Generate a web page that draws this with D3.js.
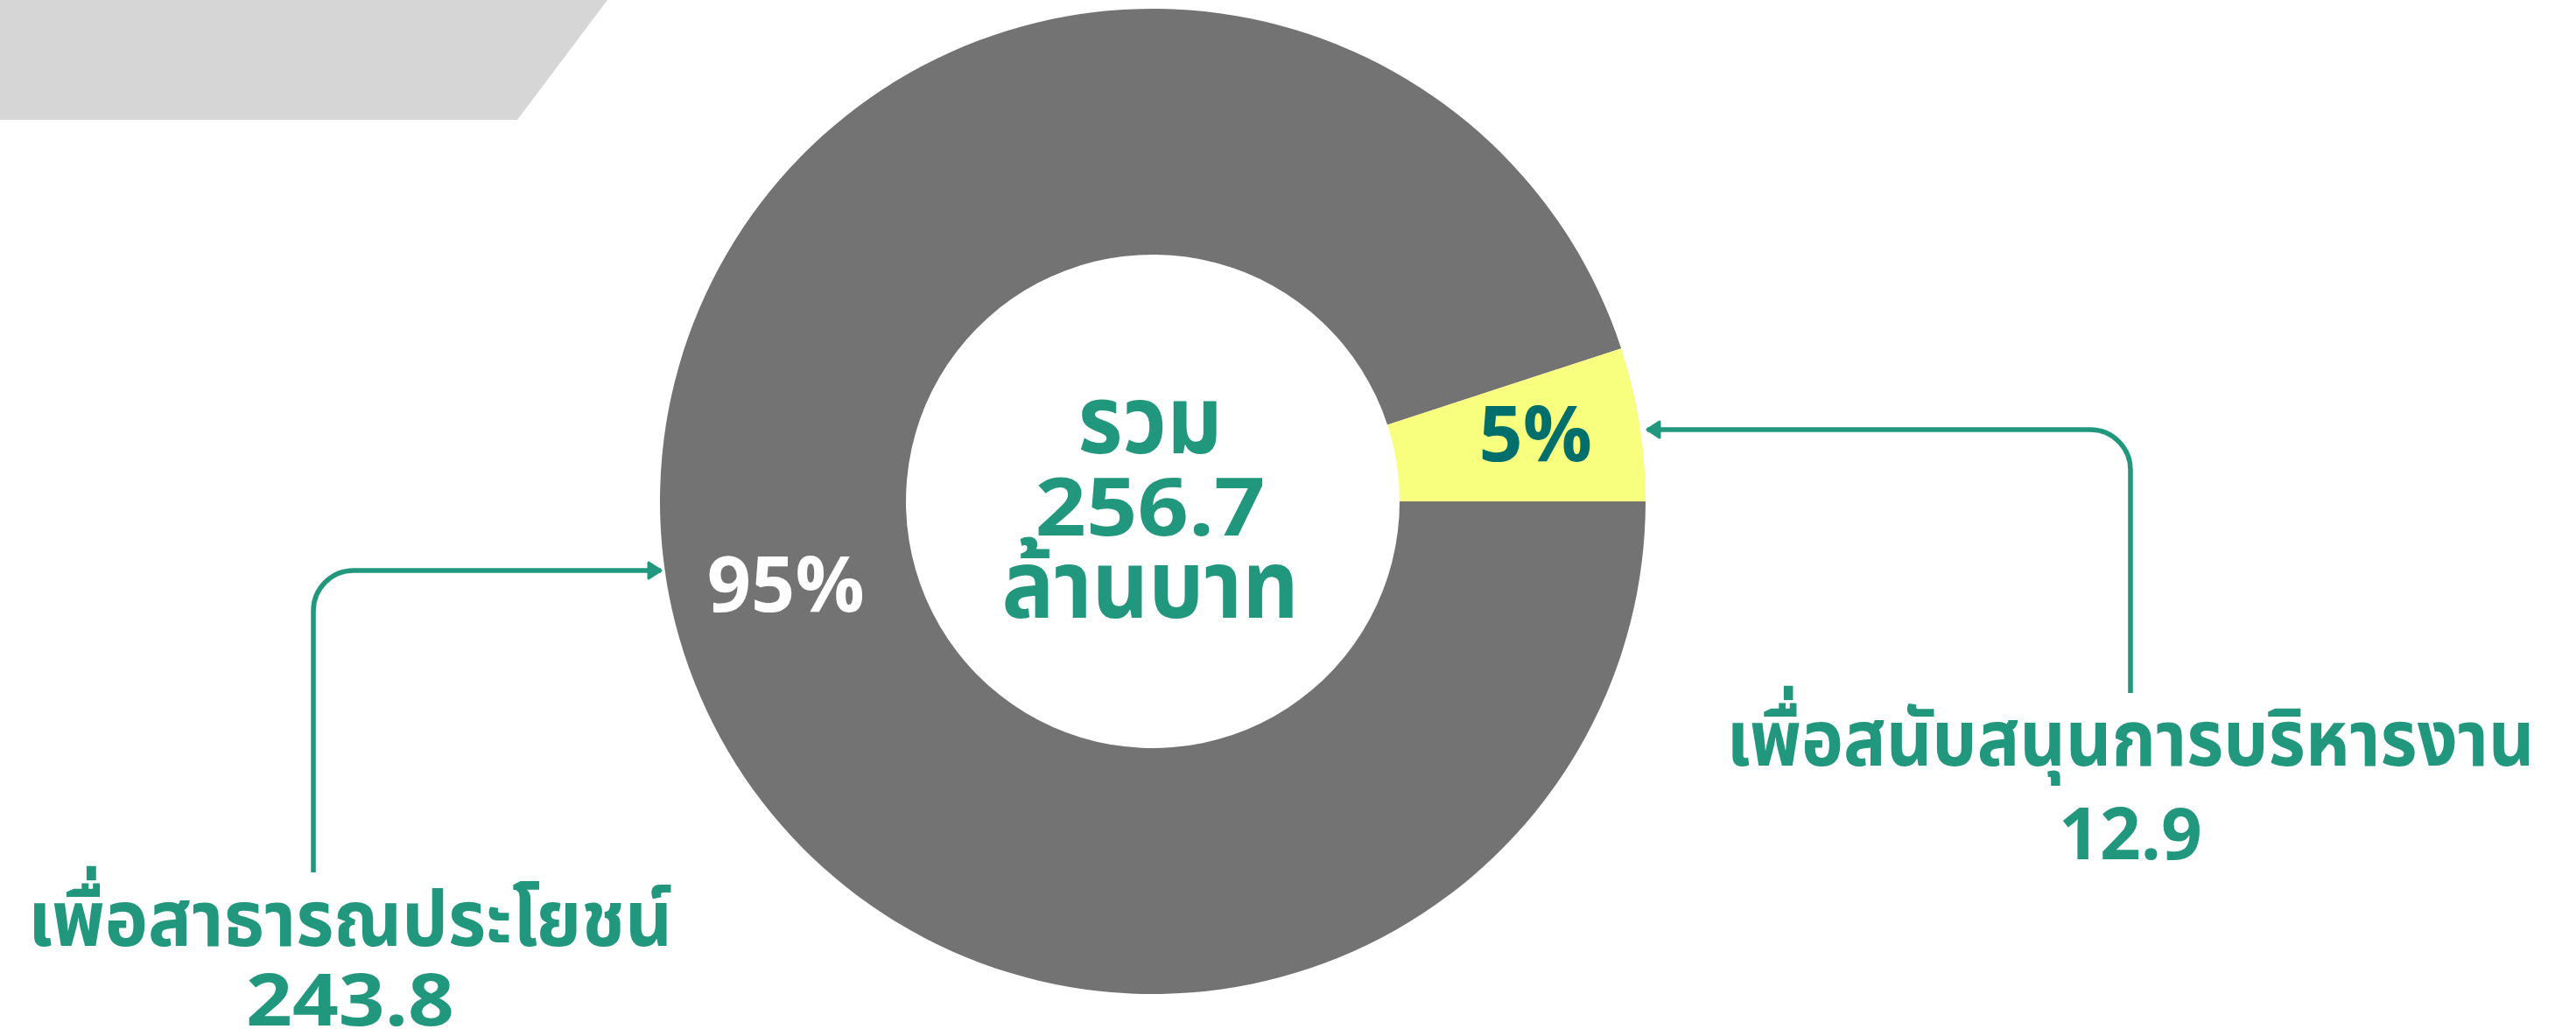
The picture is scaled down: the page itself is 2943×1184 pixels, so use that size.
<!DOCTYPE html>
<html>
<head>
<meta charset="utf-8">
<script src="https://cdn.jsdelivr.net/npm/d3@7"></script>
<style>
  body { margin: 0; background: #fff; }
  svg { display: block; }
</style>
</head>
<body>
<svg id="chart"></svg>
<script>
// data
const categories = ['เพื่อสาธารณประโยชน์', 'เพื่อสนับสนุนการบริหารงาน'];
const values = [243.8, 12.9];
const sliceColors = ['#737373', '#f8fe7e'];
const percentColors = ['#ffffff', '#006f6b'];
const totalLabel = ['รวม', '256.7', 'ล้านบาท'];

const WIDTH = 2943;
const HEIGHT = 1184;
const TEAL = '#21977d';
const FONT = "'Noto Sans Thai', 'Noto Sans', Lato, sans-serif";

const cx = 1317, cy = 573;
const outerR = 563, innerR = 282;

const svg = d3.select('#chart').attr('width', WIDTH).attr('height', HEIGHT);

// grey banner top-left
svg.append('path')
  .attr('d', 'M0,0 L694,0 L591,137 L0,137 Z')
  .attr('fill', '#d6d6d6');

const pie = d3.pie()
  .sort(null)
  .value((d) => d)
  .startAngle(Math.PI / 2)
  .endAngle(Math.PI / 2 + 2 * Math.PI);

const arc = d3.arc().innerRadius(innerR).outerRadius(outerR);
const arcs = pie(values);
const total = d3.sum(values);

const g = svg.append('g').attr('transform', `translate(${cx},${cy})`);

g.selectAll('.slice')
  .data(arcs)
  .join('path')
  .attr('class', 'slice')
  .attr('d', arc)
  .attr('fill', (d, i) => sliceColors[i]);

// percent labels, nudged off the centroid like the original
const pctOffsets = [[-2, 60], [20, 20]];
g.selectAll('.pct')
  .data(arcs)
  .join('text')
  .attr('class', 'pct')
  .attr('transform', (d, i) => {
    const c = arc.centroid(d);
    return `translate(${c[0] + pctOffsets[i][0]},${c[1] + pctOffsets[i][1]})`;
  })
  .attr('text-anchor', 'middle')
  .style('font-family', FONT)
  .style('font-weight', 700)
  .style('font-size', '88px')
  .attr('fill', (d, i) => percentColors[i])
  .text((d) => Math.round((d.data / total) * 100) + '%');

// centre total
const centreWidths = [165, 263, 339];
const centreSizes = [108, 92, 108];
g.selectAll('.total')
  .data(totalLabel)
  .join('text')
  .attr('class', 'total')
  .attr('x', -3)
  .attr('y', (d, i) => -55 + i * 94)
  .attr('text-anchor', 'middle')
  .attr('textLength', (d, i) => centreWidths[i])
  .attr('lengthAdjust', 'spacingAndGlyphs')
  .style('font-family', FONT)
  .style('font-weight', 700)
  .style('font-size', (d, i) => centreSizes[i] + 'px')
  .attr('fill', TEAL)
  .text((d) => d);

// callout arrows
svg.append('defs').append('marker')
  .attr('id', 'head')
  .attr('viewBox', '0 0 18 22')
  .attr('markerUnits', 'userSpaceOnUse')
  .attr('refX', 16)
  .attr('refY', 11)
  .attr('markerWidth', 18)
  .attr('markerHeight', 22)
  .attr('orient', 'auto')
  .append('path')
  .attr('d', 'M2,2 L16,11 L2,20 Z')
  .attr('fill', TEAL)
  .attr('stroke', TEAL)
  .attr('stroke-width', 3)
  .attr('stroke-linejoin', 'round');

const callouts = [
  { x0: 358, yBottom: 997, yArrow: 652, tip: cx - outerR + 1, r: 46 },
  { x0: 2434, yBottom: 792, yArrow: 491, tip: cx + outerR + 2, r: 46 }
];

callouts.forEach((c) => {
  const dir = c.tip > c.x0 ? 1 : -1;
  const p = d3.path();
  p.moveTo(c.x0, c.yBottom);
  p.lineTo(c.x0, c.yArrow + c.r);
  p.arcTo(c.x0, c.yArrow, c.x0 + dir * c.r, c.yArrow, c.r);
  p.lineTo(c.tip, c.yArrow);
  svg.append('path')
    .attr('d', p.toString())
    .attr('fill', 'none')
    .attr('stroke', TEAL)
    .attr('stroke-width', 5.5)
    .attr('marker-end', 'url(#head)');
});

// category labels
const labelPos = [
  { x: 400, y: 1081, w: 736, ny: 1172, nw: 238 },
  { x: 2434, y: 875, w: 923, ny: 982, nw: 164 }
];

categories.forEach((name, i) => {
  const pos = labelPos[i];
  svg.append('text')
    .attr('x', pos.x)
    .attr('y', pos.y)
    .attr('text-anchor', 'middle')
    .attr('textLength', pos.w)
    .attr('lengthAdjust', 'spacingAndGlyphs')
    .style('font-family', FONT)
    .style('font-weight', 700)
    .style('font-size', '88px')
    .attr('fill', TEAL)
    .text(name);
  svg.append('text')
    .attr('x', pos.x)
    .attr('y', pos.ny)
    .attr('text-anchor', 'middle')
    .attr('textLength', pos.nw)
    .attr('lengthAdjust', 'spacingAndGlyphs')
    .style('font-family', FONT)
    .style('font-weight', 700)
    .style('font-size', '82px')
    .attr('fill', TEAL)
    .text(values[i].toFixed(1));
});
</script>
</body>
</html>
